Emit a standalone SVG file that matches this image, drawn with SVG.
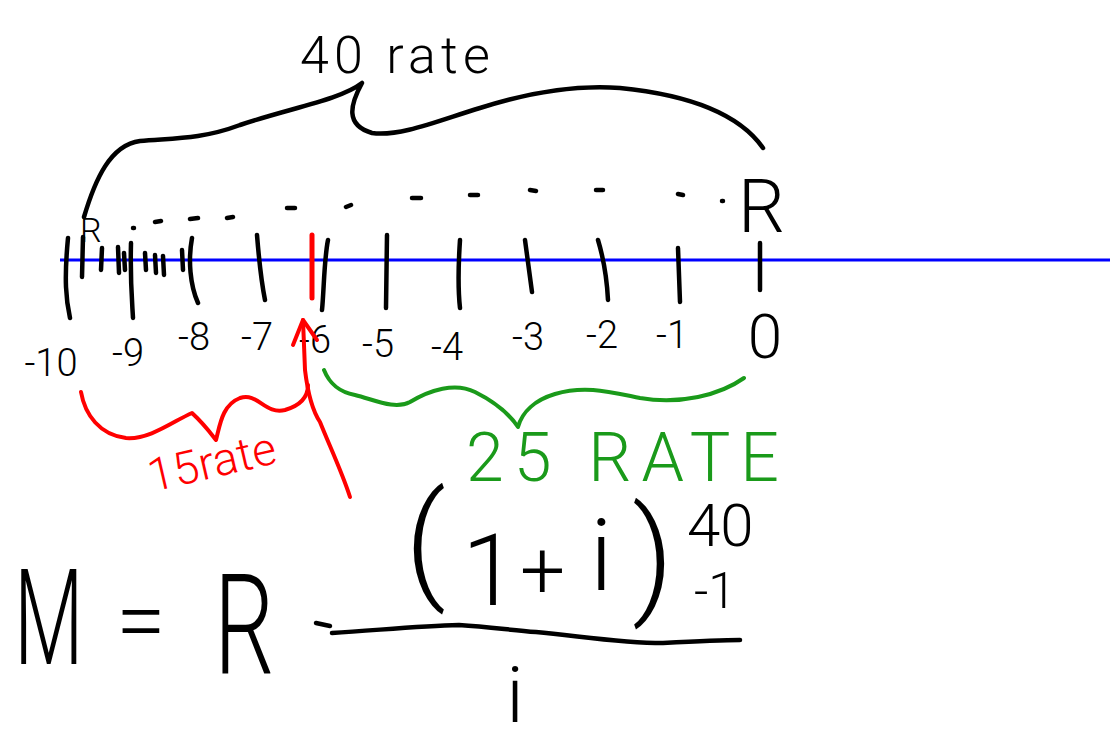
<svg xmlns="http://www.w3.org/2000/svg" width="1110" height="740" viewBox="0 0 1110 740">
<style>
.ink{fill:none;stroke:#000;stroke-width:4.5;stroke-linecap:round;stroke-linejoin:round}
.red{fill:none;stroke:#ff0000;stroke-width:4;stroke-linecap:round;stroke-linejoin:round}
.green{fill:none;stroke:#1a9a1a;stroke-width:4;stroke-linecap:round;stroke-linejoin:round}
.t{font-family:Roboto,"Liberation Sans",sans-serif;font-weight:300;fill:#000}
.lbl{font-size:38px;text-anchor:middle}
</style>
<rect width="1110" height="740" fill="#fff"/>
<g id="axis">
<path d="M60,260 L1110,260" stroke="#0000ff" stroke-width="3" fill="none"/>
</g>
<g id="ticks" class="ink">
<path d="M68,238 C64,280 66,300 70,318"/>
<path d="M83,237 L82,277"/>
<path d="M102,248 L101,270"/>
<path d="M118,247 L119,273"/>
<path d="M124,253 L125,270"/>
<path d="M131,243 C130,280 132,300 133,318"/>
<path d="M145,253 L146,270"/>
<path d="M155,255 L156,273"/>
<path d="M163,256 L164,275"/>
<path d="M182,250 L183,270"/>
<path d="M192,238 C188,260 190,285 198,303"/>
<path d="M257,235 C259,260 262,285 265,300"/>
<path d="M328,240 C324,260 324,290 322,310"/>
<path d="M387,235 L386,308"/>
<path d="M460,240 C458,270 458,290 460,308"/>
<path d="M525,240 L532,292"/>
<path d="M598,240 C604,260 607,280 608,300"/>
<path d="M678,248 L680,302"/>
<path d="M760,243 L760,290"/>
</g>
<g id="red-tick">
<path d="M312,235 L312,298" stroke="#ff0000" stroke-width="5" stroke-linecap="round"/>
</g>
<g id="labels">
<text class="t lbl" x="51" y="376">-10</text>
<text class="t lbl" x="128" y="366">-9</text>
<text class="t lbl" x="194" y="350">-8</text>
<text class="t lbl" x="257" y="350">-7</text>
<text class="t lbl" x="315" y="353">-6</text>
<text class="t lbl" x="378" y="357">-5</text>
<text class="t lbl" x="447" y="360">-4</text>
<text class="t lbl" x="528" y="350">-3</text>
<text class="t lbl" x="602" y="348">-2</text>
<text class="t lbl" x="672" y="348">-1</text>
<text class="t" x="765" y="358" font-size="62" text-anchor="middle">0</text>
</g>
<g id="top-brace">
<path class="ink" d="M84,217 C95,180 110,145 140,141 C170,138 200,140 240,125 C290,108 340,100 362,83 C350,105 345,125 372,133 C400,137 440,120 480,108 C530,92 580,85 620,88 C690,95 740,115 763,148"/>
<text class="t" x="300" y="73" font-size="52" textLength="190" lengthAdjust="spacing">40 rate</text>
</g>
<g id="dotted">
<path class="ink" stroke-width="4" d="M133,228 l1,0 M155,222 l6,-1 M190,219 l8,-1 M227,218 l6,-1 M287,208 l8,0 M346,207 l5,-2 M412,198 l9,0 M470,195 l8,0 M530,190 l6,1 M596,190 l7,0 M678,194 l5,1 M722,201 l1,0"/>
<text class="t" x="80" y="242" font-size="34" font-weight="400">R</text>
<text class="t" x="738" y="232" font-size="74">R</text>
</g>
<g id="red-brace">
<path class="red" d="M81,392 C85,415 100,435 126,438 C150,440 175,420 192,413 C205,425 212,435 216,440 C220,425 222,405 240,398 C258,392 265,415 285,410 C302,405 308,395 308,385"/>
<path class="red" d="M303,320 L305,370 C308,395 312,410 320,422 C330,447 342,472 350,497"/>
<path class="red" d="M293,345 L303,320 L317,340"/>
<text x="152" y="492" font-size="46" font-family="Roboto,'Liberation Sans',sans-serif" font-weight="300" fill="#ff0000" transform="rotate(-13 152 492)" textLength="130" lengthAdjust="spacing">15rate</text>
</g>
<g id="green-brace">
<path class="green" d="M324,370 C330,385 340,392 355,395 C375,400 395,410 410,402 C430,390 455,382 475,392 C495,402 510,415 518,427 C522,412 535,400 555,394 C585,385 610,392 640,398 C680,405 720,395 744,378"/>
<text x="466" y="481" font-size="68" font-family="Roboto,'Liberation Sans',sans-serif" font-weight="300" fill="#1a9a1a" textLength="313" lengthAdjust="spacing">25 RATE</text>
</g>
<g id="formula">
<text class="t" font-size="134" transform="translate(14,664) scale(0.6,1)">M</text>
<text class="t" x="116" y="652" font-size="90">=</text>
<text class="t" font-size="140" transform="translate(214,673) scale(0.68,1)">R</text>
<path class="ink" d="M316,623 L330,626"/>
<path class="ink" d="M332,633 C380,630 420,626 459,625 C490,627 510,630 536,632 C580,636 620,643 663,643 C700,641 720,640 740,640"/>
<text class="t" x="405" y="585" font-size="128">(</text>
<text class="t" x="462" y="605" font-size="100">1</text>
<text class="t" x="520" y="598" font-size="80">+</text>
<text class="t" x="590" y="590" font-size="100">i</text>
<text class="t" x="632" y="600" font-size="128">)</text>
<text class="t" x="687" y="546" font-size="60">40</text>
<text class="t" x="694" y="608" font-size="50">-1</text>
<text class="t" x="515" y="722" font-size="78" text-anchor="middle">i</text>
</g>
</svg>
